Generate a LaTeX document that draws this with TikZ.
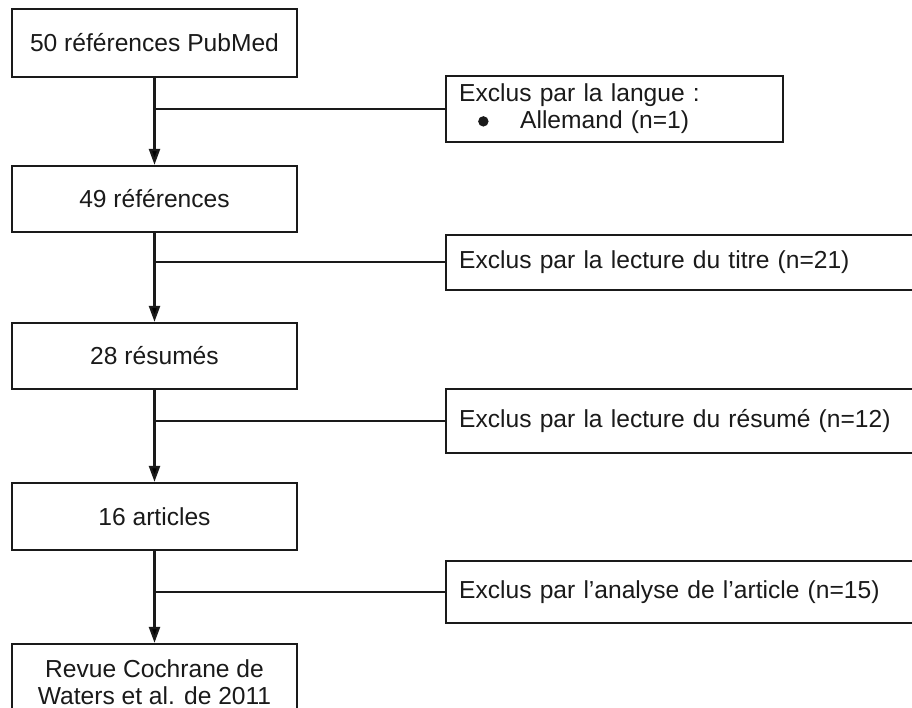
\documentclass[tikz,border=0pt]{standalone}
\usepackage{fontspec}
\setmainfont{Liberation Sans}
\usetikzlibrary{arrows.meta}
\definecolor{ink}{HTML}{1A1A1A}
\tikzset{
  leftbox/.style={draw=ink, line width=2.3pt, minimum width=285pt, inner sep=0pt, align=center, text=ink, font=\fontsize{24.6}{28}\selectfont},
  rightbox/.style={draw=ink, line width=2.3pt, anchor=west, inner xsep=13pt, inner ysep=0pt, align=left, text=ink, font=\fontsize{24.6}{28}\selectfont},
  flow/.style={draw=ink, line width=2.4pt, -{Triangle[length=16pt,width=11pt]}},
  branch/.style={draw=ink, line width=2pt}
}
\newcommand{\bulletdot}{\tikz[baseline=-7.5pt]\fill[ink] (0,0) circle (5.2pt);}
\begin{document}
\begin{tikzpicture}[x=1pt,y=-1pt]
\useasboundingbox (0,0) rectangle (912,708);
\fill[white] (0,0) rectangle (912,708);
\clip (0,0) rectangle (912,708);

% left column
\node[leftbox, minimum height=68pt] (b1) at (154.5,43) {50 références PubMed};
\node[leftbox, minimum height=66pt] (b2) at (154.5,199) {49 références};
\node[leftbox, minimum height=66pt] (b3) at (154.5,356) {28 résumés};
\node[leftbox, minimum height=67pt] (b4) at (154.5,516.5) {16 articles};
\node[leftbox, minimum height=76pt] (b5) at (154.5,682) {\\[-10pt]Revue Cochrane de\\[-1pt]Waters et al. de 2011};

% right column
\node[rightbox, minimum height=66pt, text width=311pt] (r1) at (445,109)
  {Exclus par la langue :\\[-1pt]\hspace*{19pt}\makebox[42pt][l]{\bulletdot}Allemand (n=1)};
\node[rightbox, minimum height=55pt, text width=494pt] (r2) at (445,262.5) {Exclus par la lecture du titre (n=21)};
\node[rightbox, minimum height=64pt, text width=494pt] (r3) at (445,421) {Exclus par la lecture du résumé (n=12)};
\node[rightbox, minimum height=62pt, text width=494pt] (r4) at (445,592) {Exclus par l’analyse de l’article (n=15)};

% connectors
\draw[flow] (b1) -- (b2);
\draw[flow] (b2) -- (b3);
\draw[flow] (b3) -- (b4);
\draw[flow] (b4) -- (b5);
\draw[branch] (r1.west) -- (r1.west -| b1.south);
\draw[branch] (r2.west) -- (r2.west -| b2.south);
\draw[branch] (r3.west) -- (r3.west -| b3.south);
\draw[branch] (r4.west) -- (r4.west -| b4.south);
\end{tikzpicture}
\end{document}
